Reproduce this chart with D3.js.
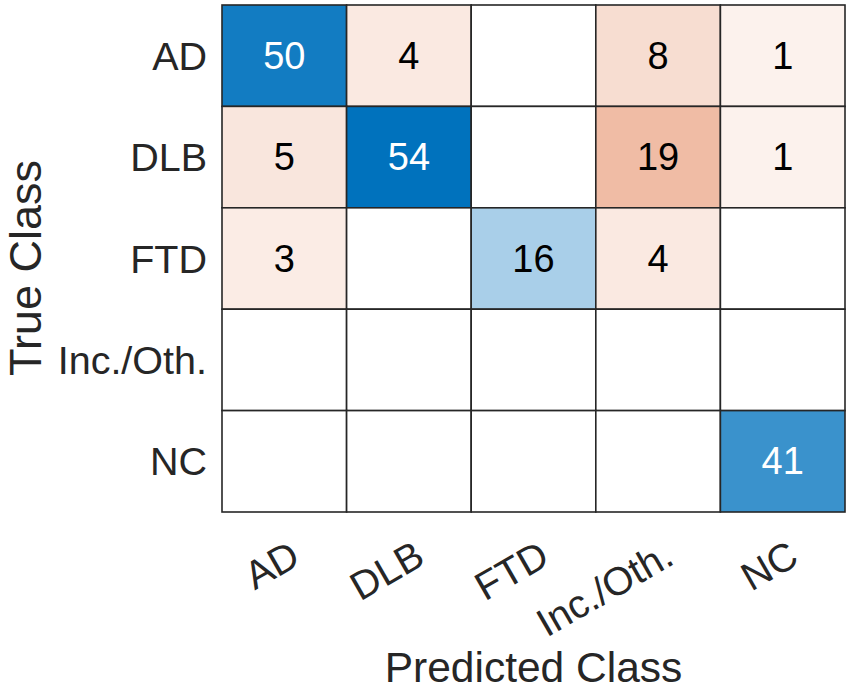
<!DOCTYPE html>
<html lang="en">
<head>
    <meta charset="UTF-8">
    <title>Confusion chart</title>
    <script src="https://d3js.org/d3.v7.min.js"></script>
    <style>
        body {
            margin: 0;
            background: #fff;
        }
        text {
            font-family: "Liberation Sans", Arial, Helvetica, sans-serif;
        }
    </style>
</head>
<body>
    <div id="chart"></div>
    <script>

// class names, same order on both axes
var predictedClasses = ["AD", "DLB", "FTD", "Inc./Oth.", "NC"];
var trueClasses = ["AD", "DLB", "FTD", "Inc./Oth.", "NC"];

// one row per true class, counts per predicted class
var rowAD = [50, 4, 0, 8, 1];
var rowDLB = [5, 54, 0, 19, 1];
var rowFTD = [3, 0, 16, 4, 0];
var rowIncOth = [0, 0, 0, 0, 0];
var rowNC = [0, 0, 0, 0, 41];

var rows = [rowAD, rowDLB, rowFTD, rowIncOth, rowNC];

var width = 851;
var height = 698;
var margin = { top: 5, right: 6, bottom: 186, left: 222 };

var cells = [];
rows.forEach(function (r, i) {
	r.forEach(function (v, j) {
		cells.push({ t: trueClasses[i], p: predictedClasses[j], value: v, diag: i === j });
	});
});

var svg = d3
	.select("#chart")
	.append("svg")
	.attr("width", width)
	.attr("height", height);

var x = d3
	.scaleBand()
	.domain(predictedClasses)
	.range([margin.left, width - margin.right]);

var y = d3
	.scaleBand()
	.domain(trueClasses)
	.range([margin.top, height - margin.bottom]);

var maxVal = d3.max(cells, (d) => d.value);

// shade strength: a small floor so even a count of 1 is tinted
var shade = d3.scaleLinear().domain([0, maxVal]).range([0.06, 1]);

var diagColor = d3.interpolateRgb("#ffffff", "#0072bd");
var offColor = d3.interpolateRgb("#ffffff", "#d95319");

function fill(d) {
	if (d.value === 0) return "#ffffff";
	return d.diag ? diagColor(shade(d.value)) : offColor(shade(d.value));
}

svg
	.append("g")
	.selectAll("rect")
	.data(cells)
	.join("rect")
	.attr("x", (d) => x(d.p))
	.attr("y", (d) => y(d.t))
	.attr("width", x.bandwidth())
	.attr("height", y.bandwidth())
	.attr("fill", fill)
	.attr("stroke", "#262626")
	.attr("stroke-width", 1.6);

svg
	.append("g")
	.selectAll("text")
	.data(cells.filter((d) => d.value > 0))
	.join("text")
	.attr("x", (d) => x(d.p) + x.bandwidth() / 2)
	.attr("y", (d) => y(d.t) + y.bandwidth() / 2)
	.attr("text-anchor", "middle")
	.attr("dominant-baseline", "central")
	.attr("font-size", 38)
	.attr("fill", (d) => (shade(d.value) > 0.5 ? "#ffffff" : "#000000"))
	.text((d) => d.value);

// y tick labels
var yAxis = svg
	.append("g")
	.attr("transform", "translate(" + margin.left + ",0)")
	.call(d3.axisLeft(y).tickSize(0).tickPadding(15));
yAxis.select(".domain").remove();
yAxis
	.selectAll("text")
	.attr("font-size", 39.5)
	.attr("font-family", null)
	.attr("fill", "#262626")
	.attr("dy", null)
	.attr("dominant-baseline", "central");

// x tick labels, rotated
var xAxis = svg
	.append("g")
	.attr("transform", "translate(0," + (height - margin.bottom) + ")")
	.call(d3.axisBottom(x).tickSize(0));
xAxis.select(".domain").remove();
xAxis
	.selectAll("text")
	.attr("font-size", 39.5)
	.attr("font-family", null)
	.attr("fill", "#262626")
	.attr("y", null)
	.attr("dy", null)
	.attr("text-anchor", "end")
	.attr("dominant-baseline", "central")
	.attr("transform", "translate(11,39) rotate(-30)");

svg
	.append("text")
	.attr("x", (margin.left + width - margin.right) / 2)
	.attr("y", 682)
	.attr("text-anchor", "middle")
	.attr("font-size", 42.5)
	.attr("fill", "#262626")
	.text("Predicted Class");

svg
	.append("text")
	.attr("transform", "translate(41,268) rotate(-90)")
	.attr("text-anchor", "middle")
	.attr("font-size", 45)
	.attr("fill", "#262626")
	.text("True Class");

    </script>
</body>
</html>
